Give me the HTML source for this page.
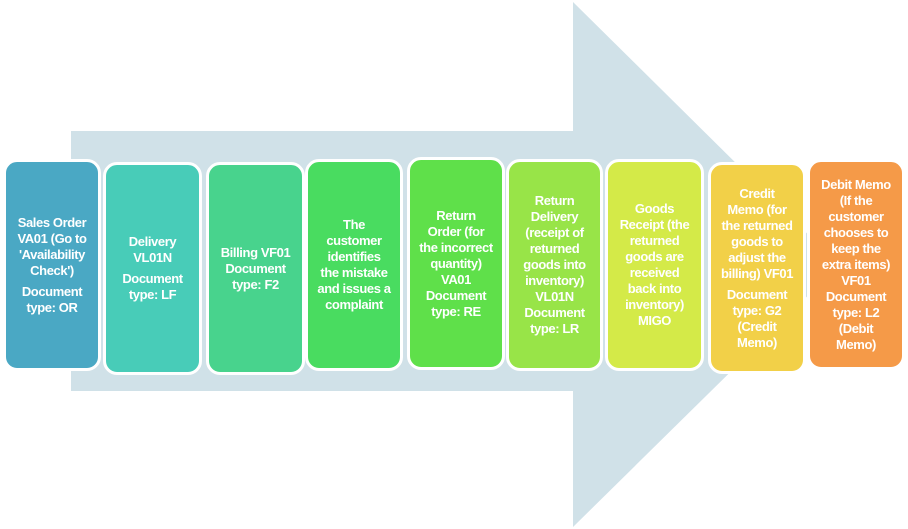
<!DOCTYPE html>
<html><head><meta charset="utf-8"><style>
body{margin:0;width:908px;height:529px;background:#fff;position:relative;overflow:hidden;font-family:"Liberation Sans",sans-serif}
.b{position:absolute;box-sizing:border-box;border:3px solid #fff;border-radius:14px;color:#fff;font-size:13px;font-weight:bold;line-height:16px;text-align:center;display:flex;flex-direction:column;justify-content:center;padding:0;letter-spacing:-0.4px;white-space:nowrap}
.b p{margin:0}
.b p+p{margin-top:5px}
</style></head><body>
<svg width="908" height="529" style="position:absolute;left:0;top:0">
<polygon points="71,131 573,131 573,2 839,265 573,527 573,391 71,391" fill="#d0e1e8"/>
</svg>
<div class="b" style="left:3px;top:159px;width:98px;height:212px;background:#4aa8c4"><p>Sales Order<br>VA01 (Go to<br>'Availability<br>Check')</p><p>Document<br>type: OR</p></div>
<div class="b" style="left:103px;top:162px;width:99px;height:213px;background:#48ccb8"><p>Delivery<br>VL01N</p><p>Document<br>type: LF</p></div>
<div class="b" style="left:206px;top:162px;width:99px;height:213px;background:#48d38d"><p>Billing VF01<br>Document<br>type: F2</p></div>
<div class="b" style="left:305px;top:159px;width:98px;height:212px;background:#49dc60"><p>The<br>customer<br>identifies<br>the mistake<br>and issues a<br>complaint</p></div>
<div class="b" style="left:407px;top:157px;width:98px;height:213px;background:#5fe04a"><p>Return<br>Order (for<br>the incorrect<br>quantity)<br>VA01<br>Document<br>type: RE</p></div>
<div class="b" style="left:506px;top:159px;width:97px;height:212px;background:#98e448"><p>Return<br>Delivery<br>(receipt of<br>returned<br>goods into<br>inventory)<br>VL01N<br>Document<br>type: LR</p></div>
<div class="b" style="left:605px;top:159px;width:99px;height:212px;background:#d4ea48"><p>Goods<br>Receipt (the<br>returned<br>goods are<br>received<br>back into<br>inventory)<br>MIGO</p></div>
<div class="b" style="left:708px;top:162px;width:98px;height:212px;background:#f2d048"><p>Credit<br>Memo (for<br>the returned<br>goods to<br>adjust the<br>billing) VF01</p><p>Document<br>type: G2<br>(Credit<br>Memo)</p></div>
<div class="b" style="left:807px;top:159px;width:98px;height:211px;background:#f59a48"><p>Debit Memo<br>(If the<br>customer<br>chooses to<br>keep the<br>extra items)<br>VF01<br>Document<br>type: L2<br>(Debit<br>Memo)</p></div>
</body></html>
